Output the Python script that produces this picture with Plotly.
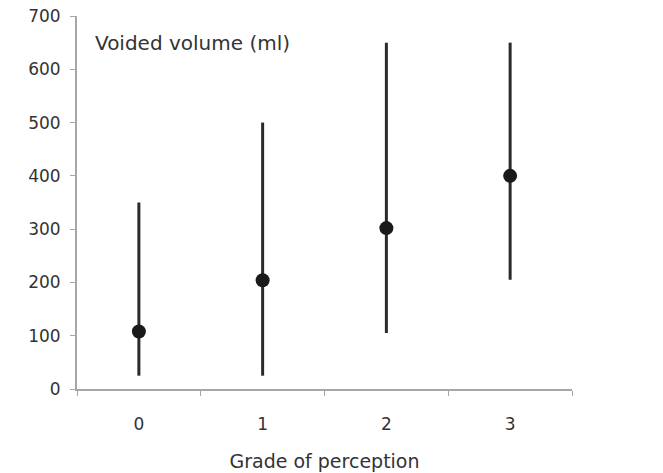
import plotly.graph_objects as go

# Voided volume by grade of perception: mean with range (min–max)
grades = ["0", "1", "2", "3"]
mean_volume = [108, 204, 302, 400]
min_volume = [25, 25, 105, 205]
max_volume = [350, 500, 650, 650]

err_plus = [hi - m for hi, m in zip(max_volume, mean_volume)]
err_minus = [m - lo for lo, m in zip(min_volume, mean_volume)]

axis_grey = "#a6a6a6"
ink = "#1a1a1a"
font_family = "DejaVu Sans, Verdana, sans-serif"

fig = go.Figure()
fig.add_trace(go.Scatter(
    x=grades,
    y=mean_volume,
    mode="markers",
    marker=dict(size=14, color=ink),
    error_y=dict(
        type="data",
        symmetric=False,
        array=err_plus,
        arrayminus=err_minus,
        width=0,
        thickness=3,
        color="#2a2a2a",
    ),
    showlegend=False,
))

fig.update_layout(
    width=663,
    height=473,
    margin=dict(l=77, r=91, t=16, b=84),
    paper_bgcolor="white",
    plot_bgcolor="white",
    font=dict(family=font_family, size=17, color="#333333"),
    xaxis=dict(
        type="category",
        categoryorder="array",
        categoryarray=grades,
        range=[-0.5, 3.5],
        tickson="boundaries",
        ticks="outside",
        ticklen=5,
        tickcolor=axis_grey,
        ticklabelstandoff=19,
        showline=True,
        linecolor=axis_grey,
        linewidth=2,
        showgrid=False,
        zeroline=False,
        automargin=False,
        title=dict(text="Grade of perception", font=dict(size=19), standoff=21),
    ),
    yaxis=dict(
        range=[0, 700],
        dtick=100,
        ticks="outside",
        ticklen=5,
        tickcolor=axis_grey,
        ticklabelstandoff=6,
        showline=True,
        linecolor=axis_grey,
        linewidth=2,
        showgrid=False,
        zeroline=False,
        automargin=False,
    ),
    annotations=[dict(
        text="Voided volume (ml)",
        xref="paper", yref="paper",
        x=0.032, y=0.928,
        xanchor="left", yanchor="middle",
        showarrow=False,
        font=dict(size=20, color="#333333"),
    )],
)

fig.write_html("out.html")
